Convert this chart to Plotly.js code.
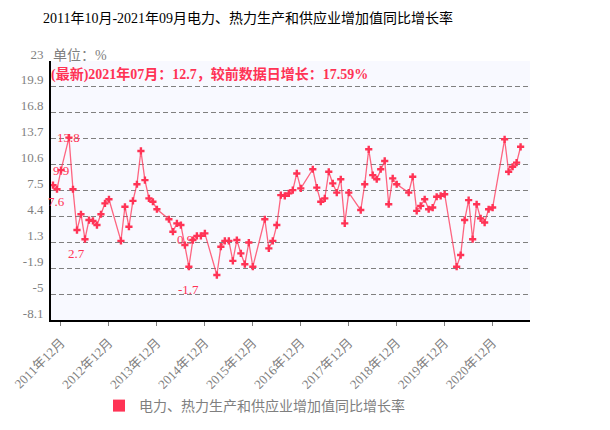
<!DOCTYPE html>
<html>
<head>
<meta charset="utf-8">
<script src="https://cdn.plot.ly/plotly-3.0.1.min.js"></script>
<style>html,body{margin:0;padding:0;background:#fff;}#chart{width:610px;height:430px;}</style>
</head>
<body>
<div id="chart"></div>
<script>
// ---- data ----
const months = [
  "2011年10月","2011年11月","2011年12月","2012年02月","2012年03月","2012年04月","2012年05月","2012年06月",
  "2012年07月","2012年08月","2012年09月","2012年10月","2012年11月","2012年12月",
  "2013年03月","2013年04月","2013年05月","2013年06月","2013年07月","2013年08月","2013年09月","2013年10月","2013年11月","2013年12月",
  "2014年03月","2014年04月","2014年05月","2014年06月","2014年07月","2014年08月","2014年09月","2014年10月","2014年11月","2014年12月",
  "2015年03月","2015年04月","2015年05月","2015年06月","2015年07月","2015年08月","2015年09月","2015年10月","2015年11月","2015年12月",
  "2016年03月","2016年04月","2016年05月","2016年06月","2016年07月","2016年08月","2016年09月","2016年10月","2016年11月","2016年12月",
  "2017年03月","2017年04月","2017年05月","2017年06月","2017年07月","2017年08月","2017年09月","2017年10月","2017年11月","2017年12月",
  "2018年03月","2018年04月","2018年05月","2018年06月","2018年07月","2018年08月","2018年09月","2018年10月","2018年11月","2018年12月",
  "2019年03月","2019年04月","2019年05月","2019年06月","2019年07月","2019年08月","2019年09月","2019年10月","2019年11月","2019年12月",
  "2020年03月","2020年04月","2020年05月","2020年06月","2020年07月","2020年08月","2020年09月","2020年10月","2020年11月","2020年12月",
  "2021年03月","2021年04月","2021年05月","2021年06月","2021年07月"
];
const growth = [
  8.1, 7.6, 9.9, 13.8, 7.6, 2.7, 4.6, 1.6,
  3.9, 3.8, 3.3, 4.6, 5.9, 6.4,
  1.4, 5.5, 3.1, 6.2, 8.2, 12.2, 8.7, 6.5, 6.1, 5.2,
  4.0, 2.5, 3.5, 3.3, 0.9, -1.7, 1.5, 2.0, 2.0, 2.3,
  -2.7, 0.7, 1.4, 1.4, -1.0, 1.5, -0.1, -1.4, 1.2, -1.7,
  4.0, 0.5, 1.4, 3.3, 6.9, 6.8, 7.1, 7.5, 9.5, 7.7,
  10.0, 7.8, 6.1, 6.5, 9.7, 8.3, 7.2, 8.8, 3.5, 7.2,
  5.1, 8.2, 12.4, 9.3, 8.8, 10.0, 11.0, 5.8, 8.9, 8.2,
  7.2, 9.1, 5.0, 5.6, 6.4, 5.2, 5.4, 6.7, 6.8, 7.0,
  -1.7, -0.3, 3.9, 6.3, 1.6, 5.8, 4.1, 3.6, 5.2, 5.4,
  13.6, 9.7, 10.3, 10.8, 12.7
];
const xTicks = ["2011年12月","2012年12月","2013年12月","2014年12月","2015年12月","2016年12月","2017年12月","2018年12月","2019年12月","2020年12月"];
const yTickText = ["23","19.9","16.8","13.7","10.6","7.5","4.4","1.3","-1.9","-5","-8.1"];
const labelMonths = ["2011年11月","2011年12月","2012年02月","2012年04月","2014年07月","2014年08月"];
const labelValues = [7.6, 9.9, 13.8, 2.7, 0.9, -1.7];
const seriesName = "电力、热力生产和供应业增加值同比增长率";
const titleText = "2011年10月-2021年09月电力、热力生产和供应业增加值同比增长率";
const unitText = "单位：%";
const latestText = "(最新)2021年07月：12.7，较前数据日增长：17.59%";

// full month category list for axis (Oct 2011 .. Sep 2021)
const allMonths = [];
for (let y = 2011; y <= 2021; y++) {
  for (let m = 1; m <= 12; m++) {
    if ((y === 2011 && m < 10) || (y === 2021 && m > 9)) continue;
    allMonths.push(y + "年" + (m < 10 ? "0" + m : m) + "月");
  }
}

const FONT = "'Liberation Serif', 'Noto Sans CJK SC', serif";
const RED = "#FF3355";
const GRAY = "#7f7f7f";

const yMin = -8.1, yMax = 23;
const yTickVals = yTickText.map((_, i) => yMax - i * (yMax - yMin) / (yTickText.length - 1));

// plot area in pixels (for paper-coordinate text placement)
const L = 51, R = 530, T = 61, B = 320;
const px = v => (v - L) / (R - L);
const py = v => (B - v) / (B - T);

const shifts = [-12, 0, 0, -23, 6, -23];
const annotations = labelMonths.map((m, i) => ({
  x: m, y: labelValues[i], xref: "x", yref: "y", text: String(labelValues[i]),
  showarrow: false, yshift: shifts[i], font: {family: FONT, size: 13, color: RED}
}));
annotations.push({
  xref: "paper", yref: "paper", x: px(51), y: py(55), xanchor: "left", yanchor: "middle",
  text: unitText, showarrow: false, font: {family: FONT, size: 14, color: GRAY}
});
annotations.push({
  xref: "paper", yref: "paper", x: px(49), y: py(74), xanchor: "left", yanchor: "middle",
  text: "<b>" + latestText + "</b>", showarrow: false, font: {family: FONT, size: 14, color: RED}
});

const traces = [
  {
    type: "scatter", mode: "lines+markers", x: months, y: growth, name: seriesName,
    showlegend: false, connectgaps: true,
    line: {color: "rgba(255,51,85,0.75)", width: 1.3},
    marker: {symbol: "cross", size: 6, color: RED}
  },
  {
    type: "scatter", mode: "markers", x: [null], y: [null], name: seriesName,
    marker: {symbol: "square", size: 9, color: RED}, showlegend: true
  }
];

const layout = {
  width: 610, height: 430,
  margin: {l: L, r: 610 - R, t: T, b: 430 - B},
  paper_bgcolor: "#ffffff",
  plot_bgcolor: "#F8F9FF",
  title: {text: titleText, font: {family: FONT, size: 14, color: "#000"}, xref: "container", x: 248/610, xanchor: "center", y: 1 - 18/430, yanchor: "middle"},
  xaxis: {
    type: "category", categoryorder: "array", categoryarray: allMonths,
    range: [-0.5, 119.35], tickmode: "array", tickvals: xTicks, ticktext: xTicks,
    tickangle: -45, ticks: "outside", ticklen: 4, tickcolor: GRAY, ticklabelstandoff: 4,
    tickfont: {family: FONT, size: 13, color: GRAY},
    showline: true, linecolor: "#000", linewidth: 2, showgrid: false, zeroline: false
  },
  yaxis: {
    range: [yMin, yMax], tickmode: "array", tickvals: yTickVals, ticktext: yTickText,
    tickfont: {family: FONT, size: 13, color: GRAY}, ticklabelshift: -7, ticklabelstandoff: 3,
    showline: true, linecolor: "#000", linewidth: 2, zeroline: false,
    showgrid: true, gridcolor: "#808080", gridwidth: 1, griddash: "5px,3px"
  },
  legend: {
    orientation: "h", xref: "container", yref: "container", x: 99/610, y: 1 - 406/430,
    xanchor: "left", yanchor: "middle", font: {family: FONT, size: 14, color: GRAY}, itemsizing: "constant"
  },
  annotations: annotations,
  showlegend: true
};

Plotly.newPlot("chart", traces, layout, {displayModeBar: false, staticPlot: true});
</script>
</body>
</html>
